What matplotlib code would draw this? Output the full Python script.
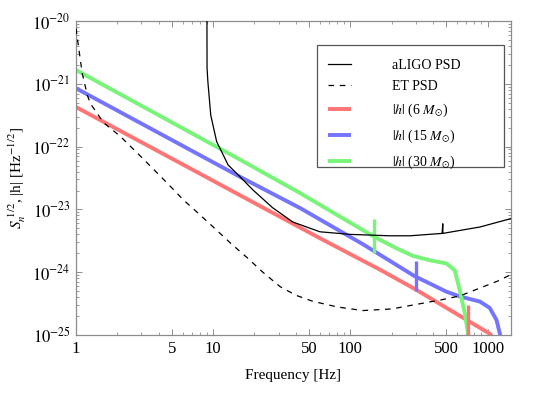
import numpy as np
import matplotlib
matplotlib.use('Agg')
import matplotlib.pyplot as plt
from matplotlib.ticker import FixedLocator, LogLocator, NullFormatter, FuncFormatter
from matplotlib.patches import Rectangle

plt.rcParams['font.family'] = ['Liberation Serif', 'DejaVu Serif']
plt.rcParams['mathtext.fontset'] = 'stix'

# aLIGO noise curve
aligo_f = [9.0, 9.02, 9.15, 9.6, 10.6, 12.85, 15.7, 19.5, 27, 38, 60, 100, 194, 272,
           466, 471, 472, 880, 1500]
aligo_s = [2e-20, 1.78e-21, 1.07e-21, 3.16e-22, 1.2e-22, 5.1e-23, 3.3e-23, 2.04e-23,
           1.07e-23, 6.3e-24, 4.4e-24, 4.0e-24, 3.8e-24, 3.8e-24,
           4.15e-24, 5.9e-24, 4.15e-24, 5.25e-24, 7.2e-24]

# ET noise curve
et_f = [1.0, 1.11, 1.21, 1.27, 1.59, 2.11, 3.0, 4.62, 6.08, 7.6, 10, 13.5, 17.7, 23,
        30.7, 40, 53, 80, 123, 200, 285, 450, 630, 1180, 1500]
et_s = [7.6e-21, 1.48e-21, 6.6e-22, 4.9e-22, 2.4e-22, 1.45e-22, 6.8e-23, 2.63e-23,
        1.41e-23, 9.1e-24, 5.25e-24, 2.85e-24, 1.7e-24, 1.0e-24, 5.9e-25, 4.3e-25,
        3.45e-25, 2.8e-25, 2.45e-25, 2.6e-25, 3.0e-25, 3.6e-25, 4.2e-25, 7.2e-25,
        9.3e-25]

# |h| for the three masses
h6_f = [1, 13.3, 60, 164, 295, 1035, 1100]
h6 = [4.27e-22, 2.04e-23, 3.47e-24, 1.1e-24, 5.4e-25, 1.05e-25, 8.9e-26]

h15_f = [1, 15.7, 43, 123, 295, 379, 500, 630, 880, 1035, 1160, 1235, 1280]
h15 = [8.5e-22, 3.3e-23, 1.05e-23, 2.8e-24, 8.6e-25, 6.6e-25, 4.9e-25, 4.1e-25,
       3.4e-25, 2.7e-25, 1.74e-25, 1.0e-25, 6.3e-26]

h30_f = [1, 15.7, 43, 148, 217, 286, 379, 501, 576, 626, 681, 719, 745]
h30 = [1.66e-21, 6.2e-23, 1.82e-23, 3.7e-24, 2.4e-24, 1.82e-24, 1.55e-24, 1.38e-24,
       1.07e-24, 5.2e-25, 2.24e-25, 1.07e-25, 6.3e-26]

# vertical markers (ISCO) for 6, 15, 30 Msun
isco_f = [716, 299, 148]
isco_lo = [9.5e-26, 5.0e-25, 2.04e-24]
isco_hi = [3.0e-25, 1.51e-24, 7.1e-24]

colors = ['#ff7474', '#7474ff', '#78f478']
labels = [r'$|h|$ (6 $M_{\odot}$)', r'$|h|$ (15 $M_{\odot}$)', r'$|h|$ (30 $M_{\odot}$)']
x_ticks = [1, 5, 10, 50, 100, 500, 1000]
y_ticks = [1e-25, 1e-24, 1e-23, 1e-22, 1e-21, 1e-20]

fig = plt.figure(figsize=(5.45, 3.95), dpi=100)
ax = fig.add_axes([0.1394, 0.1519, 0.7982, 0.7949])

ax.plot(aligo_f, aligo_s, color='black', lw=0.9, label='aLIGO PSD', zorder=4)
ax.plot(et_f, et_s, color='black', lw=0.9, ls=(0, (4.5, 4.5)), label='ET PSD', zorder=4)
for fx, hy, c, lab in zip([h6_f, h15_f, h30_f], [h6, h15, h30], colors, labels):
    ax.plot(fx, hy, color=c, lw=2.8, label=lab, solid_capstyle='butt')
ax.vlines(isco_f, isco_lo, isco_hi, colors=colors, lw=2.4)

ax.set_xscale('log')
ax.set_yscale('log')
ax.set_xlim(1, 1480)
ax.set_ylim(1e-25, 1e-20)

ax.xaxis.set_major_locator(FixedLocator(x_ticks))
ax.xaxis.set_major_formatter(FuncFormatter(lambda v, p: '%d' % v))
ax.xaxis.set_minor_locator(LogLocator(base=10, subs=np.arange(2, 10), numticks=20))
ax.xaxis.set_minor_formatter(NullFormatter())
ax.yaxis.set_major_locator(FixedLocator(y_ticks))
ax.yaxis.set_major_formatter(FuncFormatter(lambda v, p: r'$10^{%d}$' % round(np.log10(v))))
ax.yaxis.set_minor_locator(LogLocator(base=10, subs=np.arange(2, 10), numticks=20))
ax.yaxis.set_minor_formatter(NullFormatter())

grey = '#8c8c8c'
for s in ax.spines.values():
    s.set_color(grey)
    s.set_linewidth(0.9)
ax.tick_params(which='both', direction='in', top=True, right=True, color=grey,
               labelsize=12, pad=4)
ax.tick_params(which='major', length=4.5, width=0.7)
ax.tick_params(which='minor', length=2.3, width=0.6)

ax.set_xlabel('Frequency [Hz]', fontsize=11, labelpad=9)
ax.set_ylabel(r'$S_n^{\ 1/2}$, |h| [Hz$^{-1/2}$]', fontsize=11, labelpad=3)

leg = ax.legend(loc='upper left', bbox_to_anchor=(0.55, 0.92), frameon=False,
                fontsize=10, handlelength=1.7, handletextpad=2.9, labelspacing=0.62)
ax.add_patch(Rectangle((0.554, 0.535), 0.43, 0.389, transform=ax.transAxes,
                       fill=False, edgecolor='#555555', lw=0.9, zorder=5))

fig.savefig('out.png', dpi=100)
